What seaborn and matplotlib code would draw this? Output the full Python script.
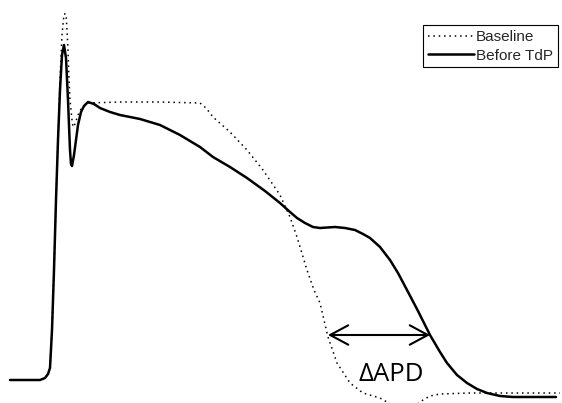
import matplotlib
matplotlib.use("Agg")
import matplotlib.pyplot as plt
import seaborn as sns
import pandas as pd

# Time (ms) and membrane voltage (mV)
before_t = [0, 30, 35, 38, 40, 42, 44, 46, 48, 50, 52, 54, 56, 58, 60, 61, 62, 64, 66, 68, 71, 74, 78,
            84, 90, 100, 110, 130, 150, 170, 190, 203, 220, 237, 255, 270, 280, 287, 295, 303, 310,
            325, 335, 345, 353, 360, 370, 380, 388, 397, 408, 420, 430, 437, 447, 457, 467, 477,
            490, 503, 520, 546]
before_v = [-85, -85, -84.4, -83.2, -81.4, -70, -52, -31, -13, 2, 12.5, 15.5, 11.6, -1, -16, -20.2,
            -20.8, -17.5, -13, -8.5, -4.6, -2.8, -1.6, -2.2, -3.4, -4.6, -5.5, -6.7, -8.5, -11.5,
            -15.1, -18.1, -21.1, -24.4, -28.3, -31.9, -34.6, -36.4, -37.9, -39.1, -39.4, -39.1,
            -39.4, -40, -41.2, -42.4, -45.1, -49, -52.9, -58, -64.3, -71.5, -76.6, -79.9, -83.5,
            -85.9, -87.7, -88.9, -89.8, -90.1, -90.1, -90.1]

base_t = [0, 30, 35, 38, 40, 42, 44, 46, 48, 50, 52, 54, 56, 57, 58, 59, 60, 62, 63, 65, 68, 72, 78,
          110, 150, 190, 196, 203, 220, 237, 253, 270, 280, 287, 297, 304, 310, 318, 327, 340, 353,
          370, 382, 395, 405, 413, 420, 430, 460, 550]
base_v = [-85, -85, -84.4, -83.2, -81.4, -70, -52, -31, -13, 5, 18.5, 24.8, 24.8, 20, 14, 5, -1, -7,
          -9.1, -8.2, -5.5, -3.1, -1.9, -1.6, -1.6, -1.9, -3.4, -6.1, -10.6, -16, -22, -29.5, -36.1,
          -42.1, -52, -58, -61.9, -72.1, -79.9, -85.9, -88.9, -90.4, -92.5, -94, -92.8, -91, -89.8,
          -89.2, -88.9, -88.9]

series_labels = ["Baseline", "Before TdP"]
apd_baseline_end = 318   # ms
apd_before_end = 420     # ms
apd_level = -71.5        # mV

df = pd.concat([
    pd.DataFrame({"t": base_t, "v": base_v, "series": series_labels[0]}),
    pd.DataFrame({"t": before_t, "v": before_v, "series": series_labels[1]}),
], ignore_index=True)

sns.set_theme(style="white")
plt.rcParams["font.family"] = ["Liberation Sans", "DejaVu Sans"]

fig = plt.figure(figsize=(5.62, 4.03), dpi=100)
ax = fig.add_axes([0, 0, 1, 1])

sns.lineplot(data=df, x="t", y="v", style="series", hue="series",
             palette={series_labels[0]: "black", series_labels[1]: "black"},
             dashes={series_labels[0]: (1, 2.5), series_labels[1]: ""},
             sort=False, estimator=None, ax=ax, legend=True)

widths = {"Baseline": 1.1, "Before TdP": 1.8}
for line, lab in zip(ax.get_lines(), series_labels):
    line.set_linewidth(widths[lab])

ax.set_xlim(-10, 552)
ax.set_ylim(-91.9, 29)
ax.set_axis_off()

ax.annotate("", xy=(apd_baseline_end, apd_level), xytext=(apd_before_end, apd_level),
            arrowprops=dict(arrowstyle="<->,head_length=1.3,head_width=0.7",
                            color="black", lw=1.5, shrinkA=0, shrinkB=0, mutation_scale=10))
ax.text(381, -85.2, "ΔAPD", ha="center", va="baseline", fontsize=18.5,
        family=["Open Sans", "DejaVu Sans"], color="black")

handles, labels = ax.get_legend_handles_labels()
leg = ax.legend(handles, labels, loc="upper right", bbox_to_anchor=(0.992, 0.937),
                frameon=True, fancybox=False, edgecolor="black", framealpha=1,
                fontsize=11, handlelength=3.0, handletextpad=0.15, labelspacing=0.3,
                borderaxespad=0, borderpad=0.3)
leg.get_frame().set_linewidth(0.8)
for h, lab in zip(leg.get_lines(), labels):
    h.set_color("black")
    h.set_linewidth(widths[lab])

fig.savefig("out.png", dpi=100)
